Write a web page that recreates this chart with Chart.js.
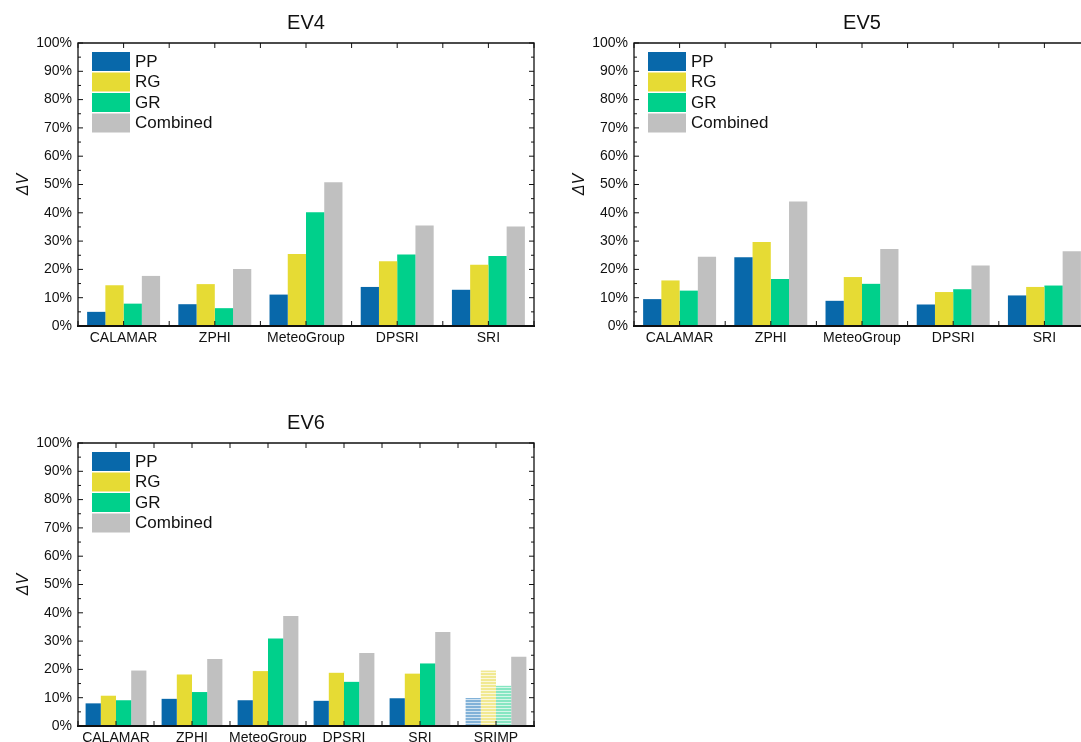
<!DOCTYPE html>
<html>
<head>
<meta charset="utf-8">
<title>EV4 / EV5 / EV6</title>
<script src="https://cdn.jsdelivr.net/npm/chart.js@4.4.0/dist/chart.umd.min.js"></script>
<style>
    html, body { margin: 0; padding: 0; background: #fff; overflow: hidden; width: 1081px; height: 742px; }
    .panel { position: absolute; width: 612px; height: 370px; }
</style>
</head>
<body>
<div class="panel" style="left:0;top:0"><canvas id="ev4" width="612" height="370"></canvas></div>
<div class="panel" style="left:556px;top:0"><canvas id="ev5" width="612" height="370"></canvas></div>
<div class="panel" style="left:0;top:400px"><canvas id="ev6" width="612" height="370"></canvas></div>
<script>
// Values (ΔV in %)
const seriesNames = ['PP', 'RG', 'GR', 'Combined'];
const yTicks = [0, 10, 20, 30, 40, 50, 60, 70, 80, 90, 100];

const ev4Categories = ['CALAMAR', 'ZPHI', 'MeteoGroup', 'DPSRI', 'SRI'];
const ev4PP = [5.0, 7.7, 11.1, 13.8, 12.8];
const ev4RG = [14.4, 14.8, 25.4, 22.9, 21.6];
const ev4GR = [7.9, 6.3, 40.2, 25.3, 24.7];
const ev4Combined = [17.7, 20.1, 50.8, 35.5, 35.2];

const ev5Categories = ['CALAMAR', 'ZPHI', 'MeteoGroup', 'DPSRI', 'SRI'];
const ev5PP = [9.5, 24.3, 8.9, 7.6, 10.8];
const ev5RG = [16.1, 29.7, 17.3, 12.0, 13.8];
const ev5GR = [12.5, 16.6, 14.9, 13.0, 14.3];
const ev5Combined = [24.5, 44.0, 27.2, 21.4, 26.4];

const ev6Categories = ['CALAMAR', 'ZPHI', 'MeteoGroup', 'DPSRI', 'SRI', 'SRIMP'];
const ev6PP = [8.0, 9.6, 9.1, 8.9, 9.8, 9.9];
const ev6RG = [10.7, 18.2, 19.4, 18.8, 18.5, 19.6];
const ev6GR = [9.1, 12.0, 30.9, 15.6, 22.1, 14.2];
const ev6Combined = [19.6, 23.7, 38.9, 25.8, 33.2, 24.5];

// categories drawn with a striped fill (except the Combined bar)
const hatchedCategories = ['SRIMP'];

const colors = {
    PP: '#0868aa',
    RG: '#e6db34',
    GR: '#00d08b',
    Combined: '#c0c0c0'
};
const stripeColors = {
    PP: ['#82b2d8', '#d2e4f2'],
    RG: ['#f1e992', '#fbf8dc'],
    GR: ['#86e6c2', '#d6f6e9']
};

Chart.defaults.font.family = "Arial, 'Liberation Sans', sans-serif";
Chart.defaults.color = '#111';

function stripes(name) {
    const cv = document.createElement('canvas');
    cv.width = 4;
    cv.height = 3;
    const g = cv.getContext('2d');
    g.fillStyle = stripeColors[name][1];
    g.fillRect(0, 0, 4, 3);
    g.fillStyle = stripeColors[name][0];
    g.fillRect(0, 0, 4, 2);
    return g.createPattern(cv, 'repeat');
}

// box, inward ticks and the legend inside the plot
const framePlugin = {
    id: 'frame',
    afterDatasetsDraw(chart) {
        const { ctx, chartArea: a, scales: { x, y } } = chart;
        const n = chart.data.labels.length;
        const line = (x1, y1, x2, y2) => {
            ctx.beginPath();
            ctx.moveTo(x1, y1);
            ctx.lineTo(x2, y2);
            ctx.stroke();
        };
        ctx.save();
        ctx.strokeStyle = '#111';
        ctx.lineWidth = 1;
        for (let v = 0; v <= 100; v += 5) {
            const py = y.getPixelForValue(v);
            const len = v % 10 === 0 ? 5 : 3;
            line(a.left, py, a.left + len, py);
            line(a.right, py, a.right - len, py);
        }
        for (let i = -0.5; i <= n - 0.5; i += 0.5) {
            const px = x.getPixelForValue(i);
            line(px, a.top, px, a.top + 5);
            line(px, a.bottom, px, a.bottom - 5);
        }
        ctx.lineWidth = 1.3;
        ctx.beginPath();
        ctx.moveTo(a.left, a.bottom);
        ctx.lineTo(a.left, a.top);
        ctx.lineTo(a.right, a.top);
        ctx.lineTo(a.right, a.bottom);
        ctx.stroke();
        ctx.lineWidth = 2.2;
        line(a.left - 1, a.bottom, a.right + 1, a.bottom);

        // legend
        ctx.font = "17px Arial, 'Liberation Sans', sans-serif";
        ctx.textBaseline = 'middle';
        chart.data.datasets.forEach((ds, i) => {
            const bx = a.left + 14;
            const by = a.top + 9 + i * 20.5;
            ctx.fillStyle = colors[ds.label];
            ctx.fillRect(bx, by, 38, 19);
            ctx.fillStyle = '#111';
            ctx.fillText(ds.label, bx + 43, by + 10);
        });
        ctx.restore();
    }
};

function makeChart(id, title, categories, values) {
    const datasets = seriesNames.map((name, k) => ({
        label: name,
        data: values[k],
        backgroundColor: categories.map(c =>
            hatchedCategories.includes(c) && stripeColors[name] ? stripes(name) : colors[name]),
        borderWidth: 0,
        categoryPercentage: 0.8,
        barPercentage: 1.0
    }));

    return new Chart(document.getElementById(id), {
        type: 'bar',
        data: { labels: categories, datasets: datasets },
        options: {
            responsive: false,
            animation: false,
            layout: { padding: { left: 0, right: 0, top: 0, bottom: 14 } },
            plugins: {
                legend: { display: false },
                tooltip: { enabled: false },
                title: {
                    display: true,
                    text: title,
                    font: { size: 20, weight: 'normal' },
                    color: '#111',
                    padding: { top: 11, bottom: 8 }
                }
            },
            scales: {
                x: {
                    grid: { display: false, drawTicks: false },
                    border: { display: false },
                    ticks: { font: { size: 14 }, padding: 4, maxRotation: 0, autoSkip: false },
                    afterFit: scale => { scale.height = 30; }
                },
                y: {
                    min: 0,
                    max: 100,
                    afterBuildTicks: scale => { scale.ticks = yTicks.map(v => ({ value: v })); },
                    grid: { display: false, drawTicks: false },
                    border: { display: false },
                    ticks: { font: { size: 14 }, padding: 6, callback: v => v + '%' },
                    title: {
                        display: true,
                        text: 'ΔV',
                        font: { size: 16, style: 'italic' },
                        padding: { top: 14, bottom: 0 }
                    },
                    afterFit: scale => { scale.width = 78; }
                },
                y2: {
                    position: 'right',
                    min: 0,
                    max: 100,
                    grid: { display: false, drawTicks: false },
                    border: { display: false },
                    ticks: { display: false },
                    afterFit: scale => { scale.width = 78; }
                }
            }
        },
        plugins: [framePlugin]
    });
}

makeChart('ev4', 'EV4', ev4Categories, [ev4PP, ev4RG, ev4GR, ev4Combined]);
makeChart('ev5', 'EV5', ev5Categories, [ev5PP, ev5RG, ev5GR, ev5Combined]);
makeChart('ev6', 'EV6', ev6Categories, [ev6PP, ev6RG, ev6GR, ev6Combined]);
</script>
</body>
</html>
